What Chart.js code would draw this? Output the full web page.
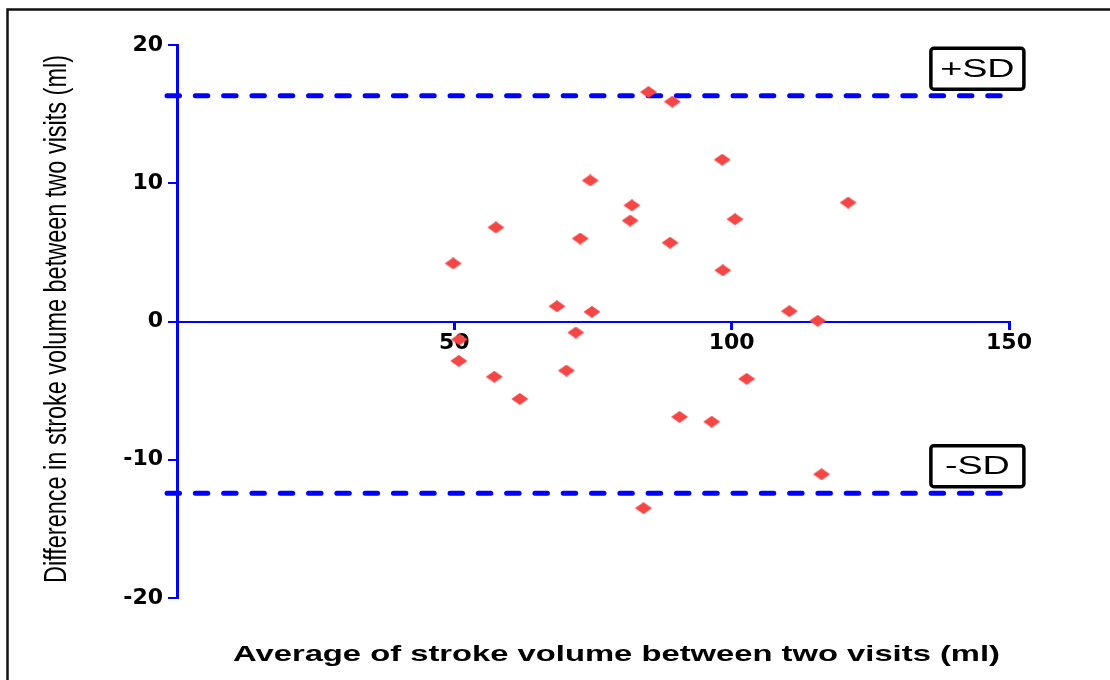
<!DOCTYPE html>
<html>
<head>
<meta charset="utf-8">
<script src="https://cdn.jsdelivr.net/npm/chart.js@4.4.1/dist/chart.umd.min.js"></script>
<style>
  html, body { margin: 0; padding: 0; background: #fff; }
  #wrap { width: 1110px; height: 680px; position: relative; }
</style>
</head>
<body>
<div id="wrap"><canvas id="blandAltman" width="1110" height="680"></canvas></div>
<script>
// mean of the two visits (x) and difference between them (y), in ml
const avgVolume = [85.0, 89.3, 98.3, 74.5, 82.0, 121.0, 81.7, 100.6, 57.5, 72.7, 88.9, 49.8, 98.4, 68.5,
                   74.8, 110.4, 115.5, 71.9, 50.9, 50.8, 57.2, 70.2, 102.7, 61.8, 90.6, 96.4, 116.2, 84.1];
const diffVolume = [16.6, 15.9, 11.7, 10.2, 8.4, 8.6, 7.3, 7.4, 6.8, 6.0, 5.7, 4.2, 3.7, 1.1,
                    0.7, 0.75, 0.05, -0.8, -1.3, -2.85, -4.0, -3.55, -4.15, -5.6, -6.9, -7.25, -11.05, -13.5];

const xTicks = [50, 100, 150];
const yTicks = [-20, -10, 0, 10, 20];

const sdUpper = 16.33;
const sdLower = -12.42;
const sdLineX = [-1.8, 150];
const sdLabels = ['+SD', '-SD'];
const sdLabelX = 144.3;

const xTitle = 'Average of stroke volume between two visits (ml)';
const yTitle = 'Difference in stroke volume between two visits (ml)';

const BLUE = '#0000FF';
const RED = '#F54646';

// flattened diamond marker
function makeDiamond() {
    const c = document.createElement('canvas');
    c.width = 18;
    c.height = 12;
    const g = c.getContext('2d');
    g.fillStyle = RED;
    g.beginPath();
    g.moveTo(9, 0);
    g.lineTo(17.5, 6);
    g.lineTo(9, 12);
    g.lineTo(0.5, 6);
    g.closePath();
    g.fill();
    return c;
}

const points = avgVolume.map((v, i) => ({ x: v, y: diffVolume[i] }));
const upperLine = sdLineX.map(x => ({ x: x, y: sdUpper }));
const lowerLine = sdLineX.map(x => ({ x: x, y: sdLower }));

const extras = {
    id: 'extras',
    beforeDraw(chart) {
        const ctx = chart.ctx;
        ctx.save();
        ctx.fillStyle = '#fff';
        ctx.fillRect(0, 0, chart.width, chart.height);
        // page frame (top and left only)
        ctx.strokeStyle = '#111';
        ctx.lineWidth = 2.5;
        ctx.beginPath();
        ctx.moveTo(chart.width, 9.5);
        ctx.lineTo(7.5, 9.5);
        ctx.lineTo(7.5, chart.height);
        ctx.stroke();
        ctx.restore();
    },
    afterDatasetsDraw(chart) {
        const ctx = chart.ctx;
        const xs = chart.scales.x;
        const ys = chart.scales.y;

        // SD label boxes
        [sdUpper, sdLower].forEach((sd, i) => {
            const cx = xs.getPixelForValue(sdLabelX);
            const bottom = ys.getPixelForValue(sd) - 6.5;
            const w = 93, h = 41;
            ctx.save();
            ctx.fillStyle = '#fff';
            ctx.strokeStyle = '#000';
            ctx.lineWidth = 3.5;
            ctx.beginPath();
            ctx.roundRect(cx - w / 2, bottom - h, w, h, 3);
            ctx.fill();
            ctx.stroke();
            ctx.translate(cx, bottom - h / 2 + 1);
            ctx.scale(1.45, 1);
            ctx.fillStyle = '#000';
            ctx.font = '26px "Liberation Sans", Arial, sans-serif';
            ctx.textAlign = 'center';
            ctx.textBaseline = 'middle';
            ctx.fillText(sdLabels[i], 0, 0);
            ctx.restore();
        });

        // x title
        ctx.save();
        ctx.font = 'bold 22px "Liberation Sans", Arial, sans-serif';
        let w = ctx.measureText(xTitle).width;
        ctx.translate(616.5, 661);
        ctx.scale(767 / w, 1);
        ctx.fillStyle = '#000';
        ctx.textAlign = 'center';
        ctx.textBaseline = 'alphabetic';
        ctx.fillText(xTitle, 0, 0);
        ctx.restore();

        // y title
        ctx.save();
        ctx.font = '22px "Liberation Sans", Arial, sans-serif';
        w = ctx.measureText(yTitle).width;
        ctx.translate(65.5, 319);
        ctx.rotate(-Math.PI / 2);
        ctx.scale(528 / w, 1.45);
        ctx.fillStyle = '#000';
        ctx.textAlign = 'center';
        ctx.textBaseline = 'alphabetic';
        ctx.fillText(yTitle, 0, 0);
        ctx.restore();
    }
};

const tickFont = { family: '"DejaVu Sans", sans-serif', size: 22, weight: 'bold' };

new Chart(document.getElementById('blandAltman'), {
    type: 'scatter',
    data: {
        datasets: [{
            label: 'Difference',
            data: points,
            pointStyle: makeDiamond(),
            pointRadius: 9,
            order: 0
        }, {
            type: 'line',
            label: '+SD',
            data: upperLine,
            showLine: true,
            borderColor: BLUE,
            borderWidth: 5,
            borderDash: [12.5, 15.8],
            borderCapStyle: 'round',
            pointRadius: 0,
            clip: false,
            order: 1
        }, {
            type: 'line',
            label: '-SD',
            data: lowerLine,
            showLine: true,
            borderColor: BLUE,
            borderWidth: 5,
            borderDash: [12.5, 15.8],
            borderCapStyle: 'round',
            pointRadius: 0,
            clip: false,
            order: 1
        }]
    },
    options: {
        responsive: false,
        animation: false,
        devicePixelRatio: 1,
        layout: { padding: { top: 45, right: 101, bottom: 82, left: 0 } },
        plugins: {
            legend: { display: false },
            tooltip: { enabled: false }
        },
        scales: {
            x: {
                type: 'linear',
                min: 0,
                max: 150,
                position: { y: 0 },
                afterBuildTicks: s => { s.ticks = xTicks.map(v => ({ value: v })); },
                border: { color: BLUE, width: 2 },
                grid: { drawOnChartArea: false, drawTicks: true, tickLength: 7, color: BLUE, lineWidth: 3 },
                ticks: { color: '#000', font: tickFont, padding: 2, maxRotation: 0, autoSkip: false }
            },
            y: {
                min: -20,
                max: 20,
                afterBuildTicks: s => { s.ticks = yTicks.map(v => ({ value: v })); },
                afterFit: s => { s.width = 177; },
                border: { color: BLUE, width: 3 },
                grid: { drawOnChartArea: false, drawTicks: true, tickLength: 9, color: BLUE, lineWidth: 2 },
                ticks: { color: '#000', font: tickFont, padding: 5 }
            }
        }
    },
    plugins: [extras]
});
</script>
</body>
</html>
